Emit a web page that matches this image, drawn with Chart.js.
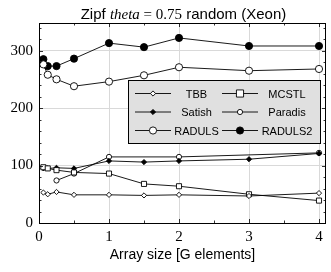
<!DOCTYPE html>
<html>
<head>
<meta charset="utf-8">
<script src="https://cdn.jsdelivr.net/npm/chart.js"></script>
<style>
  html, body { margin: 0; padding: 0; background: #fff; }
  #wrap { width: 331px; height: 272px; }
</style>
</head>
<body>
<div id="wrap"><canvas id="zipfchart" width="331" height="272"></canvas></div>
<script>
// Data block
const arraySizes = [0.0625, 0.125, 0.25, 0.5, 1, 1.5, 2, 3, 4];
const tbbData     = [53, 50, 54, 49, 49, 48, 49, 47, 52];
const mcstlData   = [97, 95, 92, 88, 86, 68, 64, 50, 39];
const satishData  = [95, 95, 96, 95, 108, 106, 108, 111, 121];
const paradisData = [null, null, 74, 86, 115, null, 115, null, 122];
const radulsData  = [276, 258, 250, 238, 246, 257, 271, 265, 268];
const radculs2Data = [285, 273, 273, 286, 313, 306, 322, 308, 308];
const xTicks = [0, 1, 2, 3, 4];
const yTicks = [0, 100, 200, 300];

const serif = '"Liberation Serif", "DejaVu Serif", serif';
const sans = '"Liberation Sans", "DejaVu Sans", sans-serif';

// one entry per series: label, values, marker
const seriesList = [
    {label: 'TBB',     values: tbbData,      style: 'rectRot', radius: 2.6, fill: '#fff'},
    {label: 'MCSTL',   values: mcstlData,    style: 'rect',    radius: 3.6, fill: '#fff'},
    {label: 'Satish',  values: satishData,   style: 'rectRot', radius: 2.6, fill: '#000'},
    {label: 'Paradis', values: paradisData,  style: 'circle',  radius: 2.6, fill: '#fff'},
    {label: 'RADULS',  values: radulsData,   style: 'circle',  radius: 3.6, fill: '#fff'},
    {label: 'RADULS2', values: radculs2Data, style: 'circle',  radius: 3.6, fill: '#000'}
];

const zipfData = {
    datasets: seriesList.map(s => ({
        label: s.label,
        data: arraySizes.map((x, i) => ({x: x, y: s.values[i]})),
        borderColor: '#000',
        borderWidth: 0.9,
        pointStyle: s.style,
        pointRadius: s.radius,
        pointBackgroundColor: s.fill,
        pointBorderColor: '#000',
        pointBorderWidth: 0.9,
        spanGaps: true,
        tension: 0
    }))
};

// draw one legend marker by hand
function drawMarker(ctx, s, x, y) {
    ctx.save();
    ctx.beginPath();
    const r = s.radius;
    if (s.style === 'circle') {
        ctx.arc(x, y, r, 0, Math.PI * 2);
    } else if (s.style === 'rect') {
        const h = r / Math.SQRT2 * 1.4;
        ctx.rect(x - h, y - h, 2 * h, 2 * h);
    } else {
        ctx.moveTo(x, y - r); ctx.lineTo(x + r, y); ctx.lineTo(x, y + r); ctx.lineTo(x - r, y); ctx.closePath();
    }
    ctx.fillStyle = s.fill;
    ctx.fill();
    ctx.lineWidth = 0.9;
    ctx.strokeStyle = '#000';
    ctx.stroke();
    ctx.restore();
}

// Frame, minor ticks, title and legend
const zipfDecor = {
    id: 'zipfDecor',
    afterDatasetsDraw(chart) {
        const ctx = chart.ctx;
        const a = chart.chartArea;
        const xs = chart.scales.x, ys = chart.scales.y;
        ctx.save();
        ctx.strokeStyle = '#000';
        ctx.lineWidth = 0.8;
        ctx.beginPath();
        // x ticks, top and bottom
        for (let v = 0; v <= 4; v += 0.5) {
            const px = Math.round(xs.getPixelForValue(v)) + 0.5;
            const len = (v % 1 === 0) ? 4 : 2.5;
            ctx.moveTo(px, a.bottom); ctx.lineTo(px, a.bottom - len);
            ctx.moveTo(px, a.top); ctx.lineTo(px, a.top + len);
        }
        // y ticks, left and right
        for (let v = 0; v <= 340; v += 20) {
            const py = Math.round(ys.getPixelForValue(v)) + 0.5;
            const len = (v % 100 === 0) ? 4 : 2.5;
            ctx.moveTo(a.left, py); ctx.lineTo(a.left + len, py);
            ctx.moveTo(a.right, py); ctx.lineTo(a.right - len, py);
        }
        ctx.stroke();
        ctx.lineWidth = 1;
        ctx.strokeRect(Math.round(a.left) + 0.5, Math.round(a.top) + 0.5,
            Math.round(a.right - a.left) - 1, Math.round(a.bottom - a.top));

        // legend box
        const lx = 128.5, ly = 80.5, lw = 192, lh = 63;
        ctx.fillStyle = '#e0e0e0';
        ctx.fillRect(lx, ly, lw, lh);
        ctx.strokeRect(lx, ly, lw, lh);
        const rowsY = [93.5, 112, 130.5];
        const cols = [{line: 135, text: 196.5}, {line: 222, text: 287}];
        ctx.font = '11px ' + sans;
        ctx.textAlign = 'center';
        ctx.textBaseline = 'middle';
        seriesList.forEach((s, i) => {
            const c = cols[i % 2], y = rowsY[Math.floor(i / 2)];
            ctx.beginPath();
            ctx.lineWidth = 0.9;
            ctx.moveTo(c.line, y); ctx.lineTo(c.line + 36, y);
            ctx.stroke();
            drawMarker(ctx, s, c.line + 18, y);
            ctx.fillStyle = '#000';
            ctx.fillText(s.label, c.text, y + 1);
        });

        // title with math part
        const parts = [
            {t: 'Zipf ', f: '15px ' + sans},
            {t: 'theta', f: 'italic 15px ' + serif},
            {t: ' = 0.75', f: '15px ' + serif},
            {t: ' random (Xeon)', f: '15px ' + sans}
        ];
        let total = 0;
        parts.forEach(p => { ctx.font = p.f; p.w = ctx.measureText(p.t).width; total += p.w; });
        let tx = 183.5 - total / 2;
        ctx.textAlign = 'left';
        ctx.textBaseline = 'alphabetic';
        parts.forEach(p => { ctx.font = p.f; ctx.fillText(p.t, tx, 19); tx += p.w; });
        ctx.restore();
    }
};

// Config block
const zipfConfig = {
    type: 'line',
    data: zipfData,
    options: {
        responsive: false,
        animation: false,
        layout: {padding: {top: 23, right: 5, left: 0, bottom: 0}},
        plugins: {
            legend: {display: false},
            title: {display: false},
            tooltip: {enabled: false}
        },
        scales: {
            x: {
                type: 'linear',
                min: 0,
                max: 4.1,
                afterBuildTicks: scale => { scale.ticks = xTicks.map(v => ({value: v})); },
                afterFit: scale => { scale.height = 49; },
                grid: {color: '#d9d9d9', lineWidth: 1, drawTicks: false},
                border: {display: false},
                ticks: {color: '#000', padding: 5, font: {family: serif, size: 15}},
                title: {
                    display: true,
                    text: 'Array size [G elements]',
                    color: '#000',
                    font: {family: sans, size: 14},
                    padding: {top: 0, bottom: 8}
                }
            },
            y: {
                min: 0,
                max: 348,
                afterBuildTicks: scale => { scale.ticks = yTicks.map(v => ({value: v})); },
                afterFit: scale => { scale.width = 39; },
                grid: {color: '#d9d9d9', lineWidth: 1, drawTicks: false},
                border: {display: false},
                ticks: {color: '#000', padding: 6, font: {family: serif, size: 15}}
            }
        }
    },
    plugins: [zipfDecor]
};

// render block
const zipfChart = new Chart(document.getElementById('zipfchart'), zipfConfig);
</script>
</body>
</html>
